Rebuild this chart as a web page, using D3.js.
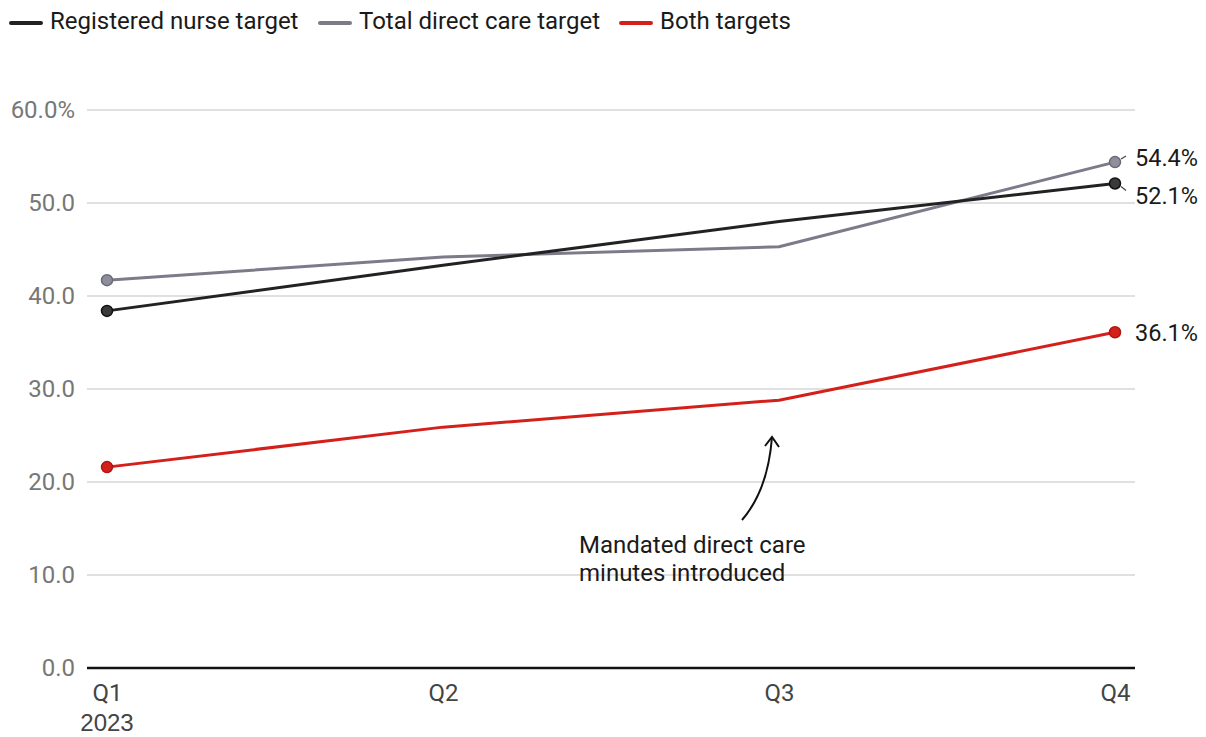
<!DOCTYPE html>
<html>
<head>
<meta charset="utf-8">
<script src="https://cdn.jsdelivr.net/npm/d3@7"></script>
<style>
  html, body { margin: 0; padding: 0; background: #fff; }
  svg { display: block; font-family: Roboto, "Noto Sans", sans-serif; }
</style>
</head>
<body>
<svg id="chart" width="1206" height="737"></svg>
<script>
// Quarterly share of facilities meeting staffing targets (%)
const quarters = ["Q1", "Q2", "Q3", "Q4"];
const nurseTarget = [38.4, 43.3, 48.0, 52.1];
const totalCareTarget = [41.7, 44.2, 45.3, 54.4];
const bothTargets = [21.6, 25.9, 28.8, 36.1];
const yTicks = [0, 10, 20, 30, 40, 50, 60];
const seriesNames = ["Registered nurse target", "Total direct care target", "Both targets"];
const seriesColors = ["#222222", "#7c7b8a", "#d4201a"];
const seriesDots = ["#3a3a3a", "#8f8e9c", "#d4201a"];
const seriesDotStroke = ["#111111", "#6a6978", "#b01510"];

const svg = d3.select("#chart");
const margin = { left: 87, right: 71, top: 110, bottom: 69 };
const W = 1206, H = 737;

const x = d3.scalePoint().domain(quarters).range([107, 1115]);
const y = d3.scaleLinear().domain([0, 60]).range([H - margin.bottom, margin.top]);

// gridlines
svg.append("g")
  .selectAll("line")
  .data(yTicks.filter(d => d > 0))
  .join("line")
  .attr("x1", margin.left).attr("x2", W - margin.right)
  .attr("y1", d => y(d)).attr("y2", d => y(d))
  .attr("stroke", "#d6d6d6").attr("stroke-width", 1.5);

// y axis labels
const yAxis = d3.axisLeft(y).tickValues(yTicks)
  .tickFormat(d => d === 60 ? d.toFixed(1) + "%" : d.toFixed(1))
  .tickSize(0).tickPadding(12);
const gy = svg.append("g").attr("transform", `translate(${margin.left},0)`).call(yAxis);
gy.select(".domain").remove();
gy.selectAll("text").attr("fill", "#777").style("font-size", "24px").style("font-family", "Roboto, sans-serif");

// x axis
const xAxis = d3.axisBottom(x).tickSize(0).tickPadding(16);
const gx = svg.append("g").attr("transform", `translate(0,${y(0)})`).call(xAxis);
gx.select(".domain").attr("d", `M${margin.left},0H${W - margin.right}`).attr("stroke", "#111").attr("stroke-width", 2.5);
gx.selectAll("text").attr("fill", "#444").style("font-size", "24px").style("font-family", "Roboto, sans-serif");
gx.append("text").attr("x", x("Q1")).attr("y", 63).attr("text-anchor", "middle")
  .attr("fill", "#444").style("font-size", "24px").text("2023");

// lines
const allSeries = [nurseTarget, totalCareTarget, bothTargets];
const line = d3.line().x((d, i) => x(quarters[i])).y(d => y(d));
const drawOrder = [1, 0, 2];
drawOrder.forEach(k => {
  svg.append("path").datum(allSeries[k])
    .attr("d", line).attr("fill", "none")
    .attr("stroke", seriesColors[k]).attr("stroke-width", 3)
    .attr("stroke-linejoin", "round");
});
// endpoint dots
drawOrder.forEach(k => {
  const s = allSeries[k];
  [0, s.length - 1].forEach(i => {
    svg.append("circle").attr("cx", x(quarters[i])).attr("cy", y(s[i])).attr("r", 5.5)
      .attr("fill", seriesDots[k]).attr("stroke", seriesDotStroke[k]).attr("stroke-width", 1.5);
  });
});

// end labels with small leaders
const lastI = quarters.length - 1;
const endLabels = [
  { k: 1, dy: -2, lead: [[6, -3], [11, -6]] },
  { k: 0, dy: 14, lead: [[6, 3], [11, 7]] },
  { k: 2, dy: 3, lead: null }
];
endLabels.forEach(o => {
  const v = allSeries[o.k][lastI];
  const px = x(quarters[lastI]), py = y(v);
  if (o.lead) {
    svg.append("line")
      .attr("x1", px + o.lead[0][0]).attr("y1", py + o.lead[0][1])
      .attr("x2", px + o.lead[1][0]).attr("y2", py + o.lead[1][1])
      .attr("stroke", "#444").attr("stroke-width", 1.2);
  }
  svg.append("text").attr("x", px + 20).attr("y", py + o.dy)
    .attr("dominant-baseline", "middle")
    .attr("fill", "#1a1a1a").style("font-size", "23.5px")
    .text(v.toFixed(1) + "%");
});

// annotation
const ann = svg.append("g");
ann.append("text").attr("x", 579).attr("y", 553).attr("fill", "#1a1a1a").style("font-size", "24px")
  .text("Mandated direct care");
ann.append("text").attr("x", 579).attr("y", 581).attr("fill", "#1a1a1a").style("font-size", "24px")
  .text("minutes introduced");
const arrowTip = [772, 437];
ann.append("path")
  .attr("d", `M742,520 Q768,490 ${arrowTip[0]},${arrowTip[1]}`)
  .attr("fill", "none").attr("stroke", "#111").attr("stroke-width", 2);
ann.append("path")
  .attr("d", `M${arrowTip[0] - 7},${arrowTip[1] + 9} L${arrowTip[0]},${arrowTip[1]} L${arrowTip[0] + 7},${arrowTip[1] + 10}`)
  .attr("fill", "none").attr("stroke", "#111").attr("stroke-width", 2);

// legend
const legendX = [10, 319, 620];
const lg = svg.append("g");
seriesNames.forEach((name, k) => {
  lg.append("line").attr("x1", legendX[k] + 1).attr("x2", legendX[k] + 31)
    .attr("y1", 23).attr("y2", 23).attr("stroke", seriesColors[k]).attr("stroke-width", 4)
    .attr("stroke-linecap", "round");
  lg.append("text").attr("x", legendX[k] + 40).attr("y", 23)
    .attr("dominant-baseline", "middle").attr("fill", "#1a1a1a").style("font-size", "24px")
    .text(name);
});
</script>
</body>
</html>
